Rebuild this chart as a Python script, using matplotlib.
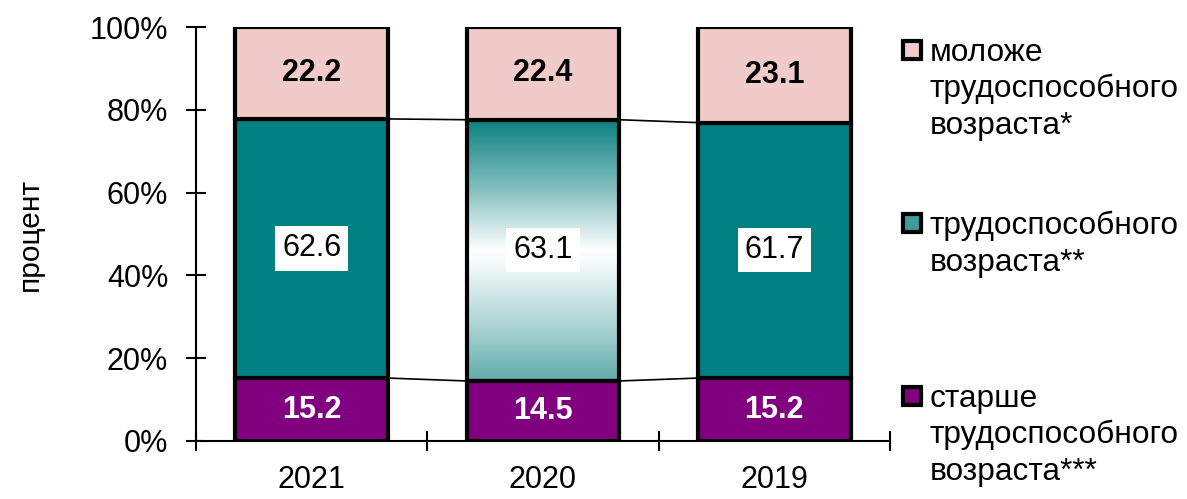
import numpy as np
import matplotlib
matplotlib.use("Agg")
import matplotlib.pyplot as plt
from matplotlib.colors import LinearSegmentedColormap
from matplotlib.patches import Rectangle

plt.rcParams['font.family'] = ['Liberation Sans', 'DejaVu Sans']

years = ['2021', '2020', '2019']
older = [15.2, 14.5, 15.2]      # старше трудоспособного возраста
working = [62.6, 63.1, 61.7]    # трудоспособного возраста
younger = [22.2, 22.4, 23.1]    # моложе трудоспособного возраста

labels = [['моложе', 'трудоспособного', 'возраста*'],
          ['трудоспособного', 'возраста**'],
          ['старше', 'трудоспособного', 'возраста***']]

c_pink = '#f1caca'
c_teal = '#008080'
c_purple = '#800080'

fig = plt.figure(figsize=(11.87, 4.99), dpi=100)
ax = fig.add_axes([196/1187, 1 - 441/499, (890-196)/1187, (441-27)/499])

x = np.arange(len(years))
w = 0.66
lw = 3.0

older = np.array(older)
working = np.array(working)
younger = np.array(younger)

b1 = ax.bar(x, older, w, color=c_purple, edgecolor='black', linewidth=lw, zorder=3)
b2 = ax.bar(x, working, w, bottom=older, color=c_teal, edgecolor='black', linewidth=lw, zorder=3)
b3 = ax.bar(x, younger, w, bottom=older + working, color=c_pink, edgecolor='black', linewidth=lw, zorder=3)

# gradient fill for the 2020 working-age segment
grad = LinearSegmentedColormap.from_list('g', [(0, '#62acac'), (0.2, '#a8d2d2'),
                                               (0.45, '#f4fafa'), (0.5, 'white'),
                                               (0.75, '#7cbcbc'), (1, '#0b8080')])
p = b2.patches[1]
p.set_facecolor('none')
img = ax.imshow(np.linspace(0, 1, 256).reshape(-1, 1), cmap=grad, origin='lower',
                extent=(x[1] - w/2, x[1] + w/2, older[1], older[1] + working[1]),
                aspect='auto', zorder=2.5)
img.set_clip_path(p)

# series lines between bars
for lev in [older, older + working]:
    for i in range(len(x) - 1):
        ax.plot([x[i] + w/2, x[i+1] - w/2], [lev[i], lev[i+1]], color='black', lw=1.2, zorder=2)

# value labels
fs = 22
for i in range(len(x)):
    ax.text(x[i], older[i]/2, f'{older[i]:.1f}', ha='center', va='center',
            color='white', fontsize=fs, fontweight='bold', zorder=5)
    ax.text(x[i], older[i] + working[i]/2, f'{working[i]:.1f}', ha='center', va='center',
            color='black', fontsize=fs, zorder=5,
            bbox=dict(facecolor='white', edgecolor='none', pad=5))
    ax.text(x[i], older[i] + working[i] + younger[i]/2, f'{younger[i]:.1f}', ha='center',
            va='center', color='black', fontsize=fs, fontweight='bold', zorder=5)

ax.set_xlim(-0.5, 2.5)
ax.set_ylim(0, 100)
ax.set_yticks(range(0, 101, 20))
ax.set_yticklabels([f'{v}%' for v in range(0, 101, 20)])
ax.set_xticks(x)
ax.set_xticklabels(years)
ax.set_xticks([-0.5, 0.5, 1.5, 2.5], minor=True)
ax.tick_params(axis='x', which='major', length=0, pad=17, labelsize=22)
ax.tick_params(axis='x', which='minor', direction='inout', length=14, width=1.5)
ax.tick_params(axis='y', direction='inout', length=14, width=1.5, pad=13, labelsize=22)
for s in ['top', 'right']:
    ax.spines[s].set_visible(False)
for s in ['left', 'bottom']:
    ax.spines[s].set_linewidth(1.5)
ax.set_ylabel('процент', fontsize=21.5, va='center')
ax.yaxis.set_label_coords((30 - 196) / 694, 0.5)

# legend drawn by hand so the marker sits at the first line
leg_colors = [c_pink, '#3f9c9c', c_purple]
leg_base = [61, 234, 407]
line_h = 36.5
for col, lines, yb in zip(leg_colors, labels, leg_base):
    fig.patches.append(Rectangle((903/1187, 1 - (yb - 2)/499), 18/1187, 18/499,
                                 transform=fig.transFigure, facecolor=col,
                                 edgecolor='black', linewidth=3))
    for k, t in enumerate(lines):
        fig.text(930/1187, 1 - (yb + k*line_h)/499, t, fontsize=22.8,
                 va='baseline', ha='left')

fig.savefig('out.png', dpi=100)
